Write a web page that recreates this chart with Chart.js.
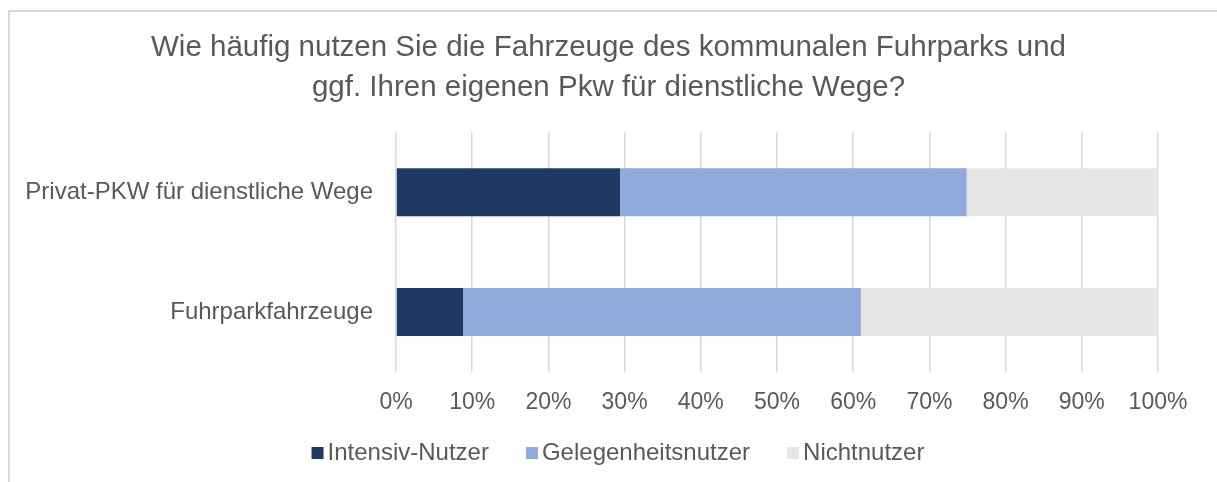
<!DOCTYPE html>
<html lang="de">
<head>
<meta charset="utf-8">
<title>Nutzung Fuhrpark</title>
<script src="https://cdn.jsdelivr.net/npm/chart.js@4.4.1/dist/chart.umd.min.js"></script>
<style>
  html, body { margin: 0; padding: 0; background: #fff; }
  #wrap { position: relative; width: 1217px; height: 482px; overflow: hidden; }
  #frame {
    position: absolute; left: 8px; top: 10px; width: 1300px; height: 600px;
    border-top: 2px solid #d9d9d9; border-left: 2px solid #d9d9d9;
  }
  #chart { position: absolute; left: 0; top: 0; }
</style>
</head>
<body>
<div id="wrap">
  <div id="frame"></div>
  <canvas id="chart" width="1217" height="482"></canvas>
</div>
<script>
const titleLines = [
  'Wie häufig nutzen Sie die Fahrzeuge des kommunalen Fuhrparks und',
  'ggf. Ihren eigenen Pkw für dienstliche Wege?'
];
const categories = ['Privat-PKW für dienstliche Wege', 'Fuhrparkfahrzeuge'];
const seriesNames = ['Intensiv-Nutzer', 'Gelegenheitsnutzer', 'Nichtnutzer'];
const intensiv = [29.4, 8.8];
const gelegentlich = [45.5, 52.2];
const nicht = [25.1, 39.0];
const seriesColors = ['#203864', '#8faadc', '#e6e6e6'];

const FONT = "'Liberation Sans', Arial, sans-serif";
const GREY = '#595959';

// Legende unten, kleine Quadrate mit knappem Abstand zum Text
const bottomLegend = {
  id: 'bottomLegend',
  afterDraw(chart) {
    const ctx = chart.ctx;
    const box = 12, gap = 4, spacing = 37, centerX = 618, midY = 453;
    ctx.save();
    ctx.font = '24px ' + FONT;
    const items = chart.data.datasets.map(ds => ({
      text: ds.label, color: ds.backgroundColor,
      w: box + gap + ctx.measureText(ds.label).width
    }));
    const total = items.reduce((s, it) => s + it.w, 0) + spacing * (items.length - 1);
    let x = centerX - total / 2;
    ctx.textBaseline = 'middle';
    ctx.textAlign = 'left';
    items.forEach(it => {
      ctx.fillStyle = it.color;
      ctx.fillRect(x, midY - box / 2, box, box);
      ctx.fillStyle = GREY;
      ctx.fillText(it.text, x + box + gap, midY);
      x += it.w + spacing;
    });
    ctx.restore();
  }
};

const datasets = [intensiv, gelegentlich, nicht].map((vals, i) => ({
  label: seriesNames[i],
  data: vals,
  backgroundColor: seriesColors[i],
  borderWidth: 0,
  categoryPercentage: 1,
  barPercentage: 0.4
}));

new Chart(document.getElementById('chart'), {
  type: 'bar',
  data: { labels: categories, datasets: datasets },
  options: {
    indexAxis: 'y',
    responsive: false,
    animation: false,
    layout: { padding: { left: 0, right: 0, top: 0, bottom: 50 } },
    plugins: {
      legend: { display: false },
      tooltip: { enabled: false },
      title: {
        display: true,
        text: titleLines,
        color: GREY,
        font: { family: FONT, size: 29.5, weight: 'normal', lineHeight: 1.36 },
        padding: { top: 28, bottom: 24 }
      }
    },
    scales: {
      x: {
        stacked: true,
        min: 0,
        max: 100,
        ticks: {
          stepSize: 10,
          color: GREY,
          padding: 17,
          font: { family: FONT, size: 23 },
          callback: v => v + '%'
        },
        grid: { color: '#d9d9d9', lineWidth: 1.5, drawTicks: false },
        border: { display: false },
        afterFit: s => { s.height = 60; s.paddingRight = 59; }
      },
      y: {
        stacked: true,
        ticks: {
          color: GREY,
          padding: 23,
          font: { family: FONT, size: 24 }
        },
        grid: { display: false, drawTicks: false },
        border: { display: false },
        afterFit: s => { s.width = 396; }
      }
    }
  },
  plugins: [bottomLegend]
});
</script>
</body>
</html>
